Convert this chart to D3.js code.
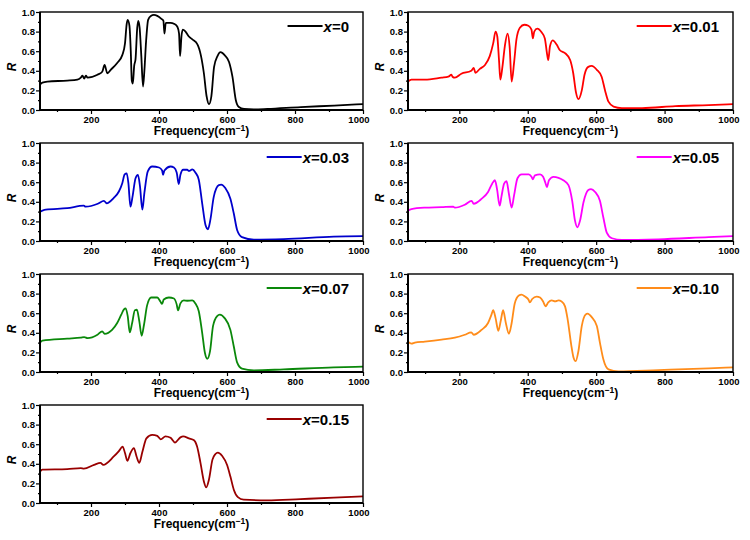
<!DOCTYPE html>
<html>
<head>
<meta charset="utf-8">
<script src="https://cdn.jsdelivr.net/npm/d3@7"></script>
<style>
  body { margin: 0; background: #fff; }
  svg { display: block; font-family: "Liberation Sans", Arial, sans-serif; }
</style>
</head>
<body>
<div id="chart"></div>
<script>
// Reflectance spectra, [frequency cm^-1, R]
const x000 = [[50,0.26],[57,0.28],[72,0.29],[130,0.30],[160,0.31],[170,0.33],[175,0.35],[180,0.32],[185,0.35],[190,0.33],[219,0.36],[233,0.39],[240,0.46],[248,0.375],[258,0.41],[277,0.48],[292,0.56],[300,0.68],[305,0.88],[308,0.92],[313,0.86],[317,0.6],[320,0.3],[323,0.27],[327,0.45],[331,0.52],[336,0.84],[339,0.91],[343,0.84],[348,0.55],[353,0.24],[357,0.4],[362,0.7],[368,0.92],[376,0.96],[385,0.97],[395,0.96],[407,0.93],[413,0.91],[416,0.78],[420,0.89],[434,0.89],[444,0.88],[454,0.85],[459,0.78],[462,0.55],[466,0.75],[470,0.82],[478,0.80],[488,0.75],[498,0.72],[513,0.67],[523,0.56],[532,0.375],[540,0.14],[547,0.06],[554,0.14],[562,0.44],[572,0.55],[581,0.59],[593,0.56],[606,0.49],[616,0.34],[626,0.10],[635,0.03],[650,0.01],[679,0.005],[719,0.01],[817,0.03],[915,0.045],[1000,0.06]];
const x001 = [[50,0.29],[60,0.31],[99,0.31],[148,0.33],[168,0.34],[177,0.36],[180,0.34],[187,0.33],[206,0.37],[235,0.40],[242,0.43],[247,0.38],[260,0.42],[275,0.46],[289,0.55],[299,0.68],[306,0.80],[311,0.75],[316,0.51],[320,0.31],[326,0.44],[333,0.65],[341,0.78],[347,0.65],[353,0.29],[360,0.48],[367,0.72],[377,0.84],[390,0.87],[402,0.86],[411,0.82],[415,0.73],[419,0.80],[428,0.83],[441,0.79],[450,0.73],[457,0.56],[460,0.51],[465,0.65],[473,0.71],[485,0.665],[494,0.61],[509,0.58],[524,0.51],[533,0.375],[541,0.18],[548,0.11],[558,0.20],[566,0.36],[577,0.44],[587,0.45],[602,0.41],[616,0.34],[626,0.20],[636,0.085],[651,0.035],[675,0.02],[734,0.02],[831,0.04],[929,0.05],[1000,0.06]];
const x003 = [[50,0.30],[57,0.31],[67,0.32],[130,0.335],[179,0.36],[184,0.35],[220,0.38],[238,0.41],[246,0.385],[267,0.44],[282,0.505],[292,0.59],[299,0.68],[305,0.69],[310,0.59],[316,0.35],[322,0.45],[331,0.64],[338,0.675],[344,0.56],[351,0.32],[357,0.49],[367,0.71],[380,0.76],[400,0.75],[409,0.72],[412,0.675],[416,0.72],[434,0.76],[444,0.75],[452,0.70],[458,0.58],[463,0.675],[471,0.727],[483,0.727],[488,0.715],[498,0.73],[507,0.70],[517,0.625],[527,0.385],[537,0.16],[544,0.12],[551,0.215],[561,0.45],[576,0.57],[583,0.575],[595,0.54],[610,0.43],[620,0.28],[630,0.11],[644,0.04],[679,0.015],[767,0.02],[914,0.045],[1000,0.05]];
const x005 = [[50,0.31],[60,0.325],[99,0.34],[148,0.345],[182,0.35],[187,0.34],[216,0.37],[236,0.41],[242,0.38],[265,0.43],[284,0.50],[296,0.585],[304,0.62],[310,0.535],[318,0.36],[323,0.45],[331,0.585],[338,0.61],[345,0.48],[353,0.34],[360,0.465],[370,0.64],[382,0.68],[403,0.68],[411,0.655],[415,0.63],[421,0.67],[436,0.68],[445,0.655],[452,0.59],[456,0.55],[462,0.62],[475,0.655],[490,0.645],[504,0.62],[519,0.57],[530,0.41],[538,0.21],[545,0.14],[553,0.21],[563,0.395],[577,0.52],[585,0.53],[597,0.50],[611,0.41],[621,0.24],[631,0.086],[646,0.028],[675,0.01],[782,0.017],[929,0.04],[1000,0.05]];
const x007 = [[50,0.30],[57,0.32],[130,0.34],[170,0.35],[180,0.355],[190,0.345],[219,0.38],[233,0.415],[240,0.39],[262,0.43],[277,0.50],[289,0.585],[297,0.64],[302,0.65],[308,0.57],[314,0.405],[321,0.50],[329,0.63],[335,0.635],[342,0.52],[349,0.37],[356,0.485],[365,0.68],[377,0.76],[395,0.76],[404,0.72],[409,0.695],[414,0.74],[429,0.76],[444,0.75],[452,0.69],[456,0.63],[463,0.70],[473,0.73],[483,0.727],[498,0.73],[507,0.70],[517,0.62],[527,0.40],[535,0.196],[542,0.135],[550,0.21],[559,0.47],[571,0.57],[579,0.585],[593,0.55],[610,0.43],[620,0.26],[630,0.095],[644,0.034],[679,0.017],[767,0.027],[914,0.047],[1000,0.054]];
const x010 = [[50,0.31],[60,0.29],[70,0.30],[99,0.31],[148,0.33],[187,0.35],[216,0.38],[235,0.405],[242,0.38],[265,0.43],[284,0.50],[294,0.585],[299,0.63],[306,0.55],[314,0.42],[321,0.52],[328,0.63],[336,0.50],[345,0.39],[353,0.50],[362,0.70],[374,0.78],[382,0.79],[392,0.77],[402,0.74],[406,0.71],[413,0.745],[426,0.77],[436,0.76],[445,0.72],[452,0.67],[460,0.71],[470,0.73],[480,0.72],[490,0.73],[499,0.72],[509,0.67],[517,0.53],[527,0.28],[534,0.145],[540,0.11],[548,0.21],[558,0.47],[569,0.585],[575,0.595],[587,0.56],[602,0.47],[611,0.30],[621,0.13],[636,0.027],[665,0.007],[782,0.02],[929,0.037],[1000,0.047]];
const x015 = [[50,0.32],[57,0.34],[130,0.345],[170,0.355],[179,0.35],[209,0.39],[228,0.41],[236,0.39],[267,0.475],[282,0.53],[293,0.576],[300,0.51],[307,0.43],[316,0.51],[326,0.56],[334,0.475],[342,0.41],[351,0.52],[363,0.66],[380,0.695],[395,0.685],[405,0.65],[419,0.68],[434,0.665],[447,0.617],[463,0.67],[471,0.68],[488,0.66],[503,0.64],[512,0.576],[522,0.41],[532,0.22],[539,0.16],[547,0.24],[557,0.44],[566,0.50],[573,0.515],[586,0.48],[600,0.39],[610,0.27],[620,0.136],[632,0.06],[649,0.034],[718,0.027],[816,0.04],[914,0.054],[1000,0.068]];

const series = [x000, x001, x003, x005, x007, x010, x015];
const labels = ["0", "0.01", "0.03", "0.05", "0.07", "0.10", "0.15"];
const colors = ["#000000", "#ff0000", "#0000cc", "#ff00ff", "#0a880a", "#ff8c1a", "#990000"];
const xMajor = [200, 400, 600, 800, 1000];
const xMinor = [100, 300, 500, 700, 900];
const yMajor = [0, 0.2, 0.4, 0.6, 0.8, 1.0];
const yMinor = [0.1, 0.3, 0.5, 0.7, 0.9];

const W = 750, H = 540;
const colLeft = [40, 408];
const panelW = [323, 325];
const rowTop = [12, 143, 274, 405];
const panelH = 98;

const svg = d3.select("#chart").append("svg")
    .attr("width", W)
    .attr("height", H);

series.forEach((data, i) => {
    const col = i % 2, row = Math.floor(i / 2);
    const w = panelW[col], h = panelH;
    const g = svg.append("g")
        .attr("transform", "translate(" + colLeft[col] + "," + rowTop[row] + ")");

    const x = d3.scaleLinear().domain([50, 1000]).range([0, w]);
    const y = d3.scaleLinear().domain([0, 1]).range([h, 0]);

    // axes
    const xa = g.append("g").attr("transform", "translate(0," + h + ")")
        .call(d3.axisBottom(x).tickValues(xMajor).tickSize(4).tickPadding(2).tickFormat(d3.format("d")));
    g.append("g").attr("transform", "translate(0," + h + ")")
        .call(d3.axisBottom(x).tickValues(xMinor).tickSize(2).tickFormat(""));
    g.append("g")
        .call(d3.axisLeft(y).tickValues(yMajor).tickSize(4).tickPadding(1).tickFormat(d3.format(".1f")));
    g.append("g")
        .call(d3.axisLeft(y).tickValues(yMinor).tickSize(2).tickFormat(""));
    g.selectAll(".domain").remove();
    g.selectAll(".tick line").attr("stroke", "#000").attr("stroke-width", 1.2);
    g.selectAll(".tick text")
        .attr("font-family", "Liberation Sans, Arial, sans-serif")
        .attr("font-size", "9.5px")
        .attr("font-weight", "bold")
        .attr("fill", "#000");
    // last x label sits on the right edge like the original
    xa.selectAll(".tick text").filter(d => d === 1000).attr("text-anchor", "end").attr("dx", "6px");

    // curve
    g.append("path")
        .datum(data)
        .attr("fill", "none")
        .attr("stroke", colors[i])
        .attr("stroke-width", 1.8)
        .attr("stroke-linejoin", "round")
        .attr("d", d3.line()
            .x(d => x(d[0]))
            .y(d => y(d[1]))
            .curve(d3.curveMonotoneX));

    // frame
    g.append("rect")
        .attr("width", w)
        .attr("height", h)
        .attr("fill", "none")
        .attr("stroke", "#000")
        .attr("stroke-width", 1.4);
    g.append("line")
        .attr("x1", 0).attr("x2", w).attr("y1", h).attr("y2", h)
        .attr("stroke", "#000").attr("stroke-width", 2);
    g.append("line")
        .attr("x1", 0).attr("x2", 0).attr("y1", 0).attr("y2", h)
        .attr("stroke", "#000").attr("stroke-width", 2);

    // axis titles
    const xt = g.append("text")
        .attr("x", w / 2)
        .attr("y", h + 25)
        .attr("text-anchor", "middle")
        .attr("font-size", "12px")
        .attr("font-weight", "bold")
        .text("Frequency(cm");
    xt.append("tspan").attr("font-size", "8.5px").attr("dy", "-4").text("\u22121");
    xt.append("tspan").attr("dy", "4").text(")");

    g.append("text")
        .attr("transform", "translate(-24," + (h / 2 + 6) + ") rotate(-90)")
        .attr("text-anchor", "middle")
        .attr("font-size", "12px")
        .attr("font-weight", "bold")
        .attr("font-style", "italic")
        .text("R");

    // legend
    const lg = g.append("text")
        .attr("x", w - 14)
        .attr("y", 19.5)
        .attr("text-anchor", "end")
        .attr("font-size", "15px")
        .attr("font-weight", "bold");
    lg.append("tspan").attr("font-style", "italic").text("x");
    lg.append("tspan").text("=" + labels[i]);
    const tw = lg.node().getComputedTextLength();
    g.append("line")
        .attr("x1", w - 14 - tw - 36).attr("x2", w - 14 - tw - 1)
        .attr("y1", 14).attr("y2", 14)
        .attr("stroke", colors[i])
        .attr("stroke-width", 1.8);
});
</script>
</body>
</html>
